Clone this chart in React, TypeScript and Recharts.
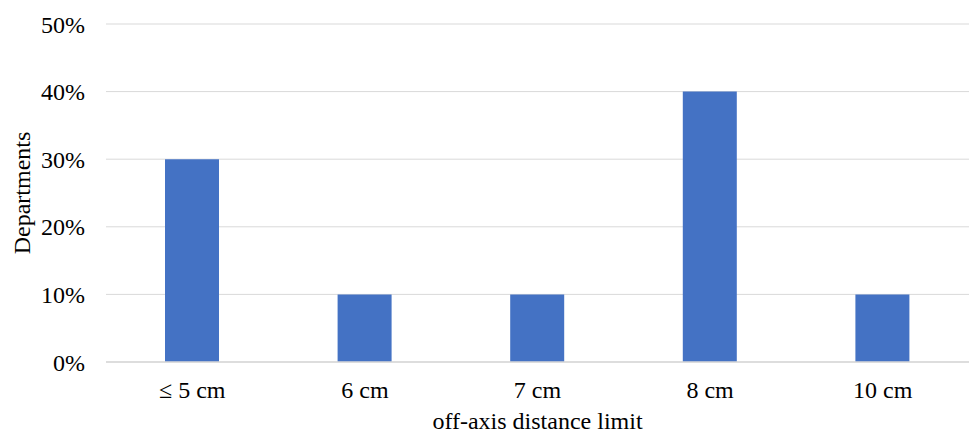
import { BarChart, Bar, XAxis, YAxis, CartesianGrid } from 'recharts';

const categories = ['≤ 5 cm', '6 cm', '7 cm', '8 cm', '10 cm'];
const departmentShare = [0.3, 0.1, 0.1, 0.4, 0.1];
const yTicks = [0, 0.1, 0.2, 0.3, 0.4, 0.5];

const data = categories.map((name, i) => ({ name, share: departmentShare[i] }));

const font = '"Liberation Serif", "Times New Roman", serif';
const textStyle = { fill: '#000', fontSize: 24, fontFamily: font };

export default function App() {
  return (
    <div style={{ position: 'absolute', left: 0, top: 0, background: '#fff' }}>
      <BarChart
        width={971}
        height={435}
        data={data}
        margin={{ top: 24, right: 2, left: 0, bottom: 0 }}
      >
        <CartesianGrid vertical={false} stroke="#d9d9d9" strokeWidth={1} />
        <XAxis
          dataKey="name"
          height={73}
          tickLine={false}
          axisLine={{ stroke: '#d9d9d9', strokeWidth: 1.3 }}
          tickSize={0}
          tickMargin={19}
          tick={textStyle}
          label={{
            value: 'off-axis distance limit',
            position: 'insideBottom',
            offset: 6,
            style: textStyle,
          }}
        />
        <YAxis
          width={106}
          domain={[0, 0.5]}
          ticks={yTicks}
          tickFormatter={(v: number) => `${Math.round(v * 100)}%`}
          tickLine={false}
          axisLine={false}
          tickSize={0}
          tickMargin={21}
          tick={textStyle}
          label={{
            value: 'Departments',
            angle: -90,
            position: 'insideLeft',
            offset: 21,
            style: { ...textStyle, textAnchor: 'middle' },
          }}
        />
        <Bar dataKey="share" fill="#4472c4" barSize={54} isAnimationActive={false} />
      </BarChart>
    </div>
  );
}
